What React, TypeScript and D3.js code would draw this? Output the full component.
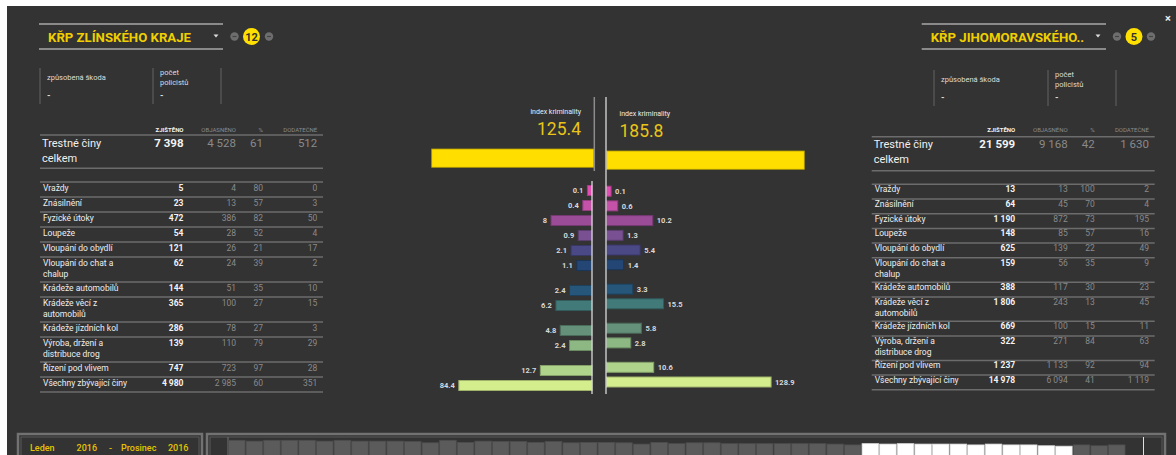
import React from "react";
import * as d3 from "d3";

// ---------- DATA ----------
const categories: string[][] = [
  ["Vraždy"],
  ["Znásilnění"],
  ["Fyzické útoky"],
  ["Loupeže"],
  ["Vloupání do obydlí"],
  ["Vloupání do chat a", "chalup"],
  ["Krádeže automobilů"],
  ["Krádeže věcí z", "automobilů"],
  ["Krádeže jízdních kol"],
  ["Výroba, držení a", "distribuce drog"],
  ["Řízení pod vlivem"],
  ["Všechny zbývající činy"],
];
const columns = ["ZJIŠTĚNO", "OBJASNĚNO", "%", "DODATEČNÉ"];
const totalLabel = ["Trestné činy", "celkem"];
const infoLabels = [["způsobená škoda"], ["počet", "policistů"]];
const infoValues = ["-", "-"];
const indexLabel = "index kriminality";

const leftRegion = "KŘP ZLÍNSKÉHO KRAJE";
const leftRank = 12;
const leftIndex = 125.4;
const leftTotal = [7398, 4528, 61, 512];
const leftFound = [5, 23, 472, 54, 121, 62, 144, 365, 286, 139, 747, 4980];
const leftSolved = [4, 13, 386, 28, 26, 24, 51, 100, 78, 110, 723, 2985];
const leftPct = [80, 57, 82, 52, 21, 39, 35, 27, 27, 79, 97, 60];
const leftAdditional = [0, 3, 50, 4, 17, 2, 10, 15, 3, 29, 28, 351];
const leftCatIndex = [0.1, 0.4, 8, 0.9, 2.1, 1.1, 2.4, 6.2, 4.8, 2.4, 12.7, 84.4];

const rightRegion = "KŘP JIHOMORAVSKÉHO..";
const rightRank = 5;
const rightIndex = 185.8;
const rightTotal = [21599, 9168, 42, 1630];
const rightFound = [13, 64, 1190, 148, 625, 159, 388, 1806, 669, 322, 1237, 14978];
const rightSolved = [13, 45, 872, 85, 139, 56, 117, 243, 100, 271, 1133, 6094];
const rightPct = [100, 70, 73, 57, 22, 35, 30, 13, 15, 84, 92, 41];
const rightAdditional = [2, 4, 195, 16, 49, 9, 23, 45, 11, 63, 94, 1119];
const rightCatIndex = [0.1, 0.6, 10.2, 1.3, 5.4, 1.4, 3.3, 15.5, 5.8, 2.8, 10.6, 128.9];

const categoryColors = [
  "#e24fb2", "#c452a9", "#9b4c97", "#795192", "#4b4886", "#244674",
  "#26577a", "#427a7a", "#659079", "#8db883", "#b0d38c", "#d5ee8d",
];

const weeklyCounts = [
  142, 140, 142, 142, 142, 140, 142, 140, 140, 140, 139, 136, 142, 137, 140, 139, 139,
  137, 139, 136, 137, 137, 136, 133, 137, 134, 136, 136, 134, 134, 134, 134, 134, 134,
  133, 131, 134, 133, 134, 133, 133, 133, 131, 133, 131, 131, 129, 128, 131, 129, 131,
];
const selectedFrom = 37;
const selectedTo = 48;
const periodTexts = ["Leden", "2016", "-", "Prosinec", "2016"];

// ---------- STYLE / LAYOUT ----------
const BG = "#333333";
const YELLOW = "#f0cf00";
const FONT = "Roboto, 'Noto Sans', sans-serif";
const locale = d3.formatLocale({ decimal: ".", thousands: "\u2009", grouping: [3], currency: ["", ""] });
const fmt = (v: number) => locale.format(",")(v).replace(/\u2009/g, " ");

const idxScale = d3.scaleSqrt().domain([0, 200]).range([0, 205]);

type Layout = {
  x: number; headerBase: number; headerLine: number; sumBase: number; sumLine: number;
  detailTop: number; s: number; d: number; textOff: number; barOff: number;
};
const leftLayout: Layout = { x: 40, headerBase: 131.7, headerLine: 135, sumBase: 146.7, sumLine: 168.3, detailTop: 182, s: 15, d: 25, textOff: 9.3, barOff: 8.5 };
const rightLayout: Layout = { x: 871.7, headerBase: 132.3, headerLine: 136.7, sumBase: 148.3, sumLine: 170.7, detailTop: 184.3, s: 14.7, d: 24.4, textOff: 8, barOff: 6.9 };
const colRight = [143.5, 196, 223, 277.3];
const tableW = 283;

function rowTops(L: Layout) {
  const hs = categories.map((c) => (c.length > 1 ? L.d : L.s));
  const tops: number[] = [];
  let y = L.detailTop;
  hs.forEach((h) => { tops.push(y); y += h; });
  return { tops, hs, end: y };
}

function StatTable({ L, total, found, solved, pct, add }: any) {
  const { tops, end } = rowTops(L);
  const lineC = "#6c6c6c";
  const cols = [found, solved, pct, add];
  return (
    <g fontFamily={FONT}>
      {columns.map((c, i) => (
        <text key={c} x={L.x + colRight[i]} y={L.headerBase} textAnchor="end" fontSize={6}
          fontWeight={i === 0 ? 700 : 400} fill={i === 0 ? "#f2f2f2" : "#8a8a8a"}>{c}</text>
      ))}
      <line x1={L.x} x2={L.x + tableW} y1={L.headerLine} y2={L.headerLine} stroke={lineC} strokeWidth={1.5} />
      {totalLabel.map((t, i) => (
        <text key={t} x={L.x + 2} y={L.sumBase + i * 15} fontSize={11} fill="#f0f0f0">{t}</text>
      ))}
      {total.map((v: number, i: number) => (
        <text key={i} x={L.x + colRight[i]} y={L.sumBase} textAnchor="end" fontSize={11.5}
          fontWeight={i === 0 ? 700 : 400} fill={i === 0 ? "#f4f4f4" : "#8a8a8a"}>{fmt(v)}</text>
      ))}
      <line x1={L.x} x2={L.x + tableW} y1={L.sumLine} y2={L.sumLine} stroke={lineC} strokeWidth={1.5} />
      <line x1={L.x} x2={L.x + tableW} y1={L.detailTop} y2={L.detailTop} stroke={lineC} strokeWidth={1.5} />
      {categories.map((lab, r) => {
        const base = tops[r] + L.textOff;
        return (
          <g key={r}>
            {lab.map((t, k) => (
              <text key={k} x={L.x + 3} y={base + k * 11} fontSize={8.5} fill="#eeeeee">{t}</text>
            ))}
            {cols.map((arr: number[], i: number) => (
              <text key={i} x={L.x + colRight[i]} y={base} textAnchor="end" fontSize={8.5}
                fontWeight={i === 0 ? 700 : 400} fill={i === 0 ? "#f4f4f4" : "#8a8a8a"}>{fmt(arr[r])}</text>
            ))}
            <line x1={L.x} x2={L.x + tableW} y1={r === categories.length - 1 ? end : tops[r + 1]}
              y2={r === categories.length - 1 ? end : tops[r + 1]} stroke={lineC} strokeWidth={1.5} />
          </g>
        );
      })}
    </g>
  );
}

function Header({ x1, x2, title, rank, arrowX, c1, c2, c3, info }: any) {
  return (
    <g fontFamily={FONT}>
      <line x1={x1} x2={x2} y1={24} y2={24} stroke="#8a8a8a" strokeWidth={2} />
      <line x1={x1} x2={x2} y1={49} y2={49} stroke="#8a8a8a" strokeWidth={2} />
      <text x={x1 + 9} y={42} fontSize={13.2} fontWeight={700} fill={YELLOW}>{title}</text>
      <path d={`M${arrowX - 2.5},34.5 L${arrowX + 2.5},34.5 L${arrowX},37.5 Z`} fill="#dddddd" />
      {[c1, c3].map((cx: number, i: number) => (
        <g key={i}>
          <circle cx={cx} cy={36.5} r={4.2} fill="#6e6e6e" />
          <line x1={cx - 2} x2={cx + 2} y1={36.5} y2={36.5} stroke="#444" strokeWidth={1.2} />
        </g>
      ))}
      <circle cx={c2} cy={36.5} r={8.5} fill="#ffe000" />
      <text x={c2} y={40.5} textAnchor="middle" fontSize={11} fontWeight={700} fill="#333">{rank}</text>
      {info.lines.map((lx: number, i: number) => (
        <line key={i} x1={lx} x2={lx} y1={info.y1} y2={info.y2} stroke="#555" strokeWidth={1.5} />
      ))}
      {infoLabels.map((labs, i) => (
        <g key={i}>
          {labs.map((t, k) => (
            <text key={k} x={info.lines[i] + 7} y={(labs.length > 1 ? info.y1 + 7 : info.y1 + 12) + k * 10}
              fontSize={7.5} fill="#dddddd">{t}</text>
          ))}
          <text x={info.lines[i] + 7} y={info.y1 + 30} fontSize={9} fontWeight={700} fill="#dddddd">{infoValues[i]}</text>
        </g>
      ))}
    </g>
  );
}

function CenterBars({ L, values, side }: any) {
  const { tops } = rowTops(L);
  const axisX = side === "left" ? 592 : 606.5;
  const h = 10;
  return (
    <g fontFamily={FONT}>
      {values.map((v: number, i: number) => {
        const w = idxScale(v);
        const cy = tops[i] + L.barOff;
        const x = side === "left" ? axisX - w : axisX;
        const col = d3.color(categoryColors[i])!;
        return (
          <g key={i}>
            <rect x={x} y={cy - h / 2} width={w} height={h} fill={categoryColors[i]}
              stroke={col.darker(0.8).formatHex()} strokeWidth={1} />
            <text x={side === "left" ? x - 4 : x + w + 4} y={cy + 2.8} textAnchor={side === "left" ? "end" : "start"}
              fontSize={7.5} fontWeight={700} fill="#d8d8d8">{v}</text>
          </g>
        );
      })}
    </g>
  );
}

export default function App() {
  const band = d3.scaleBand<number>().domain(weeklyCounts.map((_, i) => i + 1)).range([228.5, 1125]).paddingInner(0.06);
  const wy = d3.scaleLinear().domain([0, d3.max(weeklyCounts)!]).range([500, 440.3]);
  const leftIdxW = idxScale(leftIndex);
  const rightIdxW = idxScale(rightIndex);
  const periodX = [30, 76.6, 109, 121, 168];
  return (
    <svg width={1176} height={455} style={{ position: "absolute", left: 0, top: 0 }}>
      <rect x={7} y={6} width={1169} height={449} fill={BG} />
      <text x={1168} y={22} textAnchor="middle" fontFamily={FONT} fontSize={11} fontWeight={700} fill="#eeeeee">×</text>

      <Header x1={39} x2={223} title={leftRegion} rank={leftRank} arrowX={216} c1={234.5} c2={251.5} c3={269}
        info={{ lines: [40, 153, 221], y1: 68, y2: 104 }} />
      <Header x1={921.7} x2={1106} title={rightRegion} rank={rightRank} arrowX={1098} c1={1117} c2={1134} c3={1151}
        info={{ lines: [934, 1048, 1116], y1: 70, y2: 106 }} />

      <StatTable L={leftLayout} total={leftTotal} found={leftFound} solved={leftSolved} pct={leftPct} add={leftAdditional} />
      <StatTable L={rightLayout} total={rightTotal} found={rightFound} solved={rightSolved} pct={rightPct} add={rightAdditional} />

      {/* index kriminality */}
      <g fontFamily={FONT}>
        <text x={581} y={113.5} textAnchor="end" fontSize={7} fill="#eeeeee">{indexLabel}</text>
        <text x={581} y={135} textAnchor="end" fontSize={17.5} fill="#e8c51a">{leftIndex.toFixed(1)}</text>
        <text x={619.5} y={116} fontSize={7} fill="#eeeeee">{indexLabel}</text>
        <text x={619.5} y={136.7} fontSize={17.5} fill="#e8c51a">{rightIndex.toFixed(1)}</text>
        <rect x={594 - leftIdxW} y={149} width={leftIdxW} height={18.3} fill="#ffde00" stroke="#b39c00" strokeWidth={0.8} />
        <rect x={606.7} y={151} width={rightIdxW} height={18.3} fill="#ffde00" stroke="#b39c00" strokeWidth={0.8} />
      </g>

      <CenterBars L={leftLayout} values={leftCatIndex} side="left" />
      <CenterBars L={rightLayout} values={rightCatIndex} side="right" />

      <line x1={594.3} x2={594.3} y1={97} y2={171} stroke="#8c8c8c" strokeWidth={1.5} />
      <line x1={592} x2={592} y1={181} y2={394} stroke="#e8e8e8" strokeWidth={1.2} />
      <line x1={606} x2={606} y1={97} y2={394} stroke="#e8e8e8" strokeWidth={1.2} />

      {/* timeline */}
      <g>
        <rect x={18} y={434} width={184} height={40} fill="none" stroke="#727272" strokeWidth={2.5} />
        <rect x={21} y={437} width={178} height={40} fill="none" stroke="#5a5a5a" strokeWidth={1} />
        <rect x={207} y={434} width={958} height={40} fill="none" stroke="#727272" strokeWidth={2.5} />
        <rect x={210} y={437} width={952} height={40} fill="none" stroke="#5a5a5a" strokeWidth={1} />
        <line x1={228} x2={228} y1={437} y2={455} stroke="#6a6a6a" strokeWidth={1.2} />
        {weeklyCounts.map((v, i) => {
          const wk = i + 1;
          const sel = wk >= selectedFrom && wk <= selectedTo;
          return (
            <rect key={i} x={band(wk)!} y={wy(v)} width={band.bandwidth()} height={500 - wy(v)}
              fill={sel ? "#ffffff" : "#5b5b5b"} stroke={sel ? "#dddddd" : "#4e4e4e"} strokeWidth={0.8} />
          );
        })}
        <line x1={1143.5} x2={1143.5} y1={437} y2={455} stroke="#e0e0e0" strokeWidth={1} />
        {periodTexts.map((t, i) => (
          <text key={i} x={periodX[i]} y={451} fontFamily={FONT} fontSize={9} fontWeight={500} fill="#e6c400">{t}</text>
        ))}
      </g>
    </svg>
  );
}
